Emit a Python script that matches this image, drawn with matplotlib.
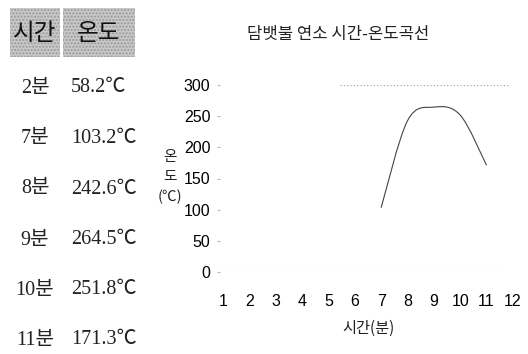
import matplotlib.pyplot as plt
from matplotlib.patches import Rectangle, PathPatch
from matplotlib.path import Path

# table data
times = ['2분', '7분', '8분', '9분', '10분', '11분']
temps = ['58.2℃', '103.2℃', '242.6℃', '264.5℃', '251.8℃', '171.3℃']
headers = ['시간', '온도']

# chart data (minutes, degrees)
minutes = [7, 8, 9, 10, 11]
degrees = [103.2, 242.6, 264.5, 251.8, 171.3]
yticks = [0, 50, 100, 150, 200, 250, 300]
xticks = list(range(1, 13))

kor = ['Noto Sans CJK KR', 'DejaVu Sans']
serif = ['Liberation Serif', 'Noto Sans CJK KR']

fig = plt.figure(figsize=(5.28, 3.54), dpi=100)
W, H = 528, 354

# --- left table ---
for (x0, x1), h in zip([(10, 60), (63, 135)], headers):
    fig.patches.append(Rectangle((x0 / W, 1 - 57 / H), (x1 - x0) / W, 49 / H,
                                 transform=fig.transFigure, facecolor='#c8c8c8',
                                 edgecolor='#999999', hatch='.....', lw=0))
    fig.text((x0 + x1) / 2 / W, 1 - 34 / H, h, family=kor, fontsize=17,
             ha='center', va='center', color='#111111')

rows_y = [88, 138, 189, 240, 290, 340]
for t, v, yy in zip(times, temps, rows_y):
    fig.text(35 / W, 1 - yy / H, t, family=serif, fontsize=14.5,
             ha='center', va='center', color='#222222')
    fig.text(71 / W, 1 - yy / H, v, family=serif, fontsize=14.5,
             ha='left', va='center', color='#222222')

# --- chart ---
ax = fig.add_axes([220 / W, 1 - 272 / H, 300 / W, 187 / H])
ax.set_xlim(0.886, 12.27)
ax.set_ylim(0, 300)
for s in ax.spines.values():
    s.set_visible(False)
ax.set_xticks(xticks)
ax.set_yticks(yticks)
ax.tick_params(axis='x', length=0, pad=16, labelsize=11.5)
ax.tick_params(axis='y', length=2, color='#bbbbbb', pad=5, labelsize=11.5)
for lab in ax.get_xticklabels() + ax.get_yticklabels():
    lab.set_family('Liberation Sans')
ax.axhline(0, color='#999999', lw=0.8, ls=(0, (1, 3)), xmax=0.96)
ax.axhline(300, color='#999999', lw=0.8, ls=(0, (1, 2)), xmin=0.4, xmax=0.96)

# smooth curve through the points (Catmull-Rom as cubic Beziers)
pts = list(zip(minutes, degrees))
verts = [pts[0]]
codes = [Path.MOVETO]
n = len(pts)
for i in range(n - 1):
    p0 = pts[max(i - 1, 0)]
    p1 = pts[i]
    p2 = pts[i + 1]
    p3 = pts[min(i + 2, n - 1)]
    c1 = (p1[0] + (p2[0] - p0[0]) / 6, p1[1] + (p2[1] - p0[1]) / 6)
    c2 = (p2[0] - (p3[0] - p1[0]) / 6, p2[1] - (p3[1] - p1[1]) / 6)
    verts += [c1, c2, p2]
    codes += [Path.CURVE4] * 3
ax.add_patch(PathPatch(Path(verts, codes), fill=False, edgecolor='#444444', lw=0.8))

fig.text(338 / W, 1 - 35 / H, '담뱃불 연소 시간-온도곡선', family=kor, fontsize=12,
         ha='center', va='center', color='#222222')
fig.text(368 / W, 1 - 328 / H, '시간(분)', family=kor, fontsize=11,
         ha='center', va='center', color='#222222')
fig.text(170 / W, 1 - 177 / H, '온\n도\n(℃)', family=kor, fontsize=10.5,
         ha='center', va='center', color='#222222', linespacing=1.55)

fig.savefig('out.png', dpi=100)
